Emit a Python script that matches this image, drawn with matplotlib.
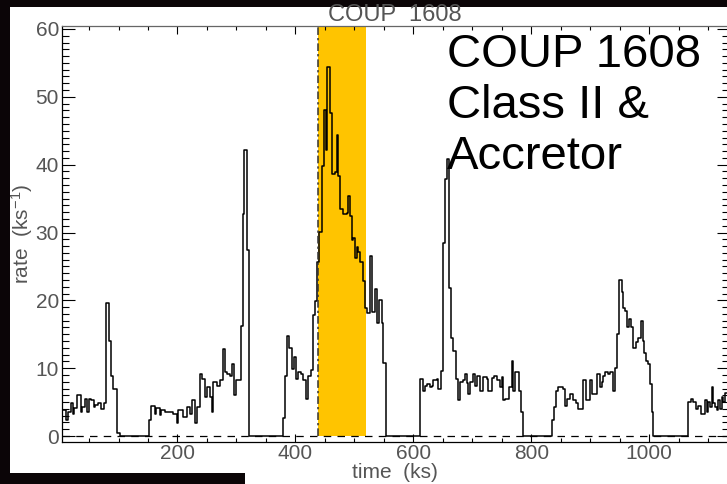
import matplotlib
matplotlib.use('Agg')
import matplotlib.pyplot as plt
import numpy as np
from matplotlib.patches import Rectangle
from matplotlib.ticker import MultipleLocator, FixedLocator

plt.rcParams['font.family'] = ['Liberation Sans', 'DejaVu Sans']
plt.rcParams['mathtext.fontset'] = 'custom'
plt.rcParams['mathtext.rm'] = 'Liberation Sans'
plt.rcParams['mathtext.it'] = 'Liberation Sans:italic'

# ---- light curve (step start times in ks, rate in counts/ks) ----
tA = [0, 11.4, 14.3, 18.8, 22.7, 24.4, 30.1, 35.8, 38.0, 42.5, 47.1, 49.3, 53.9, 58.4, 60.6,
      65.2, 69.7, 75.3, 78.2, 83.3, 86.6, 90.6, 98.0, 101.9]
rA = [3.8, 2.3, 3.6, 4.8, 3.3, 4.2, 6.0, 3.6, 4.3, 5.5, 3.6, 5.5, 5.3, 4.3, 4.6,
      4.8, 4.0, 4.8, 19.6, 14.0, 8.9, 7.0, 0.4, 0.0]

tB = [151.1, 155.6, 161.3, 164.1, 169.8, 172.6, 178.3, 187.3, 193.0, 198.6, 201.4, 209.9, 215.6,
      221.2, 224.1, 229.7, 233.7, 238.2, 241.0, 246.7, 250.6, 255.2, 258.0, 260.8, 266.5, 272.1,
      277.8, 280.6, 284.6, 289.1, 291.9, 295.9, 299.3, 303.2, 307.2, 310.6, 312.8, 318.5, 321.9]
rB = [2.3, 4.4, 3.3, 4.1, 3.1, 3.8, 3.6, 3.5, 3.3, 1.9, 3.8, 2.8, 4.3,
      3.3, 5.3, 1.9, 4.3, 9.2, 8.4, 5.7, 7.2, 5.7, 3.6, 7.9, 7.4, 8.2,
      12.8, 9.4, 9.2, 8.9, 10.6, 6.0, 8.2, 8.2, 16.2, 32.7, 42.2, 27.4, 0.0]

tC = [378.4, 382.4, 385.2, 389.7, 393.7, 397.7, 401.0, 405.0, 409.0, 413.5,
      418.0, 422.0, 425.9, 430.4, 433.3, 437.2, 440.6, 444.6, 448.5, 451.4,
      454.2, 458.7, 462.1, 467.2, 470.0, 472.9, 475.7, 481.3, 487.0, 489.8,
      492.7, 495.5, 498.3, 501.1, 504.0, 506.8, 509.6, 514.1, 518.1, 522.1,
      526.6, 530.5, 535.1, 539.0, 542.4, 546.4, 549.2, 553.7]
rC = [2.6, 8.9, 14.7, 13.0, 9.9, 11.6, 8.4, 9.4, 9.2, 8.2,
      5.5, 8.9, 9.7, 17.9, 19.9, 25.7, 30.1, 39.8, 48.1, 42.2,
      54.4, 47.6, 38.6, 38.9, 44.3, 38.3, 33.5, 32.7, 32.9, 35.4,
      32.5, 28.9, 29.2, 26.2, 27.9, 27.2, 25.7, 22.8, 18.9, 18.1,
      26.5, 18.3, 21.6, 16.7, 20.1, 16.7, 10.8, 0.0]

tD = [611.4, 616.0, 620.0, 623.0, 628.0, 631.0, 634.0, 639.7, 642.0, 646.5,
      651.0, 653.8, 656.6, 661.0, 664.0, 668.0, 672.0, 676.0, 679.0, 685.0,
      688.0, 690.6, 693.0, 696.0, 701.9, 704.0, 708.0, 713.0, 719.0, 724.5,
      727.0, 733.0, 737.0, 741.5, 747.1, 750.0, 752.8, 755.6, 763.0, 766.9,
      768.6, 772.5, 780.0, 782.5, 785.5]
rD = [8.4, 6.7, 7.4, 7.6, 7.2, 7.4, 8.2, 8.4, 7.0, 9.6,
      28.4, 37.9, 40.9, 21.8, 14.5, 12.5, 8.4, 5.3, 7.9, 8.2,
      9.2, 7.8, 6.2, 7.9, 9.2, 7.4, 8.9, 6.7, 8.7, 8.4,
      6.7, 8.5, 8.9, 8.2, 7.2, 8.7, 5.3, 5.5, 7.2, 11.1,
      6.7, 9.4, 6.7, 3.6, 0.0]

tE = [834.8, 838.8, 842.0, 845.8, 854.5, 857.3, 860.2, 865.9, 871.5, 876.0,
      880.0, 888.5, 893.0, 899.8, 902.6, 911.1, 916.7, 919.6, 922.4, 925.0,
      930.0, 933.7, 939.3, 942.2, 946.0, 949.5, 953.5, 956.3, 959.1, 963.0,
      966.4, 970.0, 973.3, 977.8, 981.8, 985.7, 989.0, 991.3, 994.8, 998.7,
      1001.6, 1004.4, 1007.2]
rE = [2.3, 4.3, 6.7, 7.2, 7.0, 4.5, 5.5, 6.2, 5.3, 4.8,
      4.0, 8.2, 5.3, 8.2, 6.2, 9.2, 7.2, 7.9, 8.9, 9.4,
      9.2, 9.4, 6.7, 10.1, 15.0, 23.0, 21.3, 18.9, 18.4, 16.0,
      17.2, 16.0, 13.0, 13.8, 14.5, 16.9, 14.0, 12.3, 11.1, 10.6,
      7.7, 3.5, 0.0]

tF = [1066.6, 1070.5, 1075.0, 1079.5, 1083.5, 1087.5, 1094.9, 1097.7, 1100.5, 1103.3,
      1106.2, 1109.0, 1111.8, 1114.7, 1117.5, 1120.3, 1123.2, 1126.0, 1128.8, 1140.0]
rF = [5.0, 5.5, 5.0, 4.0, 4.5, 3.3, 5.3, 3.5, 5.0, 4.3,
      7.2, 4.8, 4.3, 3.8, 5.3, 4.0, 5.8, 5.0, 6.3, 6.3]

band_start, band_end = 439.0, 519.0
x_ticks = [200, 400, 600, 800, 1000]
y_ticks = [0, 10, 20, 30, 40, 50, 60]
title = 'COUP  1608'
note = 'COUP 1608\nClass II &\nAccretor'

t_all = np.concatenate([tA, tB, tC, tD, tE, tF])
r_all = np.concatenate([rA, rB, rC, rD, rE, rF])

W, H = 727, 484
fig = plt.figure(figsize=(W / 100, H / 100), dpi=100, facecolor='#0b0507')
fig.patches.append(Rectangle((10 / W, 11 / H), 1.0, 466 / H, transform=fig.transFigure,
                             facecolor='white', edgecolor='none', zorder=-10))
fig.patches.append(Rectangle((245 / W, 0), 1.0, 12 / H, transform=fig.transFigure,
                             facecolor='white', edgecolor='none', zorder=-10))

ax = fig.add_axes([61.7 / W, 42 / H, (728.5 - 61.7) / W, 416 / H])
ax.set_zorder(1)
ax.set_facecolor('white')
xmin, xmax = 3.6, 1134.7
ymin, ymax = -0.88, 60.44
ax.set_xlim(xmin, xmax)
ax.set_ylim(ymin, ymax)

ax.fill_between([band_start, band_end], 0, ymax, color='#FFC400', lw=0, zorder=1)
ax.plot([band_start, band_start], [0, ymax], ls=(0, (5, 2, 1.5, 2)), color='#333333', lw=1.1, zorder=4)
ax.axhline(0, ls=(0, (6, 5)), color='black', lw=0.9, zorder=2)
ax.step(t_all, r_all, where='post', color='black', lw=1.1, zorder=3)

tick_gray = '#555555'
ax.xaxis.set_major_locator(FixedLocator(x_ticks))
ax.xaxis.set_minor_locator(MultipleLocator(50))
ax.yaxis.set_major_locator(FixedLocator(y_ticks))
ax.yaxis.set_minor_locator(MultipleLocator(1))
ax.tick_params(which='both', direction='in', top=True, right=True, width=0.8, color='black')
ax.tick_params(axis='x', which='major', length=5.8, pad=1.5)
ax.tick_params(axis='x', which='minor', length=2.9)
ax.tick_params(axis='y', which='major', length=9, pad=2)
ax.tick_params(axis='y', which='minor', length=4.8)
ax.tick_params(labelsize=15, labelcolor=tick_gray)
for s in ax.spines.values():
    s.set_linewidth(0.9)
ax.spines['top'].set_color('#666666')

ax.set_title(title, fontsize=17, color=tick_gray, pad=1.0)
ax.set_xlabel('time  (ks)', fontsize=15, color=tick_gray, va='center')
ax.xaxis.set_label_coords(0.5, (442 - 472) / 416)
ax.set_ylabel('rate  (ks$^{-1}$)', fontsize=15, color=tick_gray, va='center')
ax.yaxis.set_label_coords((22 - 61.7) / 666.8, 0.5)

fig.text(447 / W, 1 - 33 / H, note, fontsize=34, color='black', ha='left', va='top',
         linespacing=1.2, zorder=10)

fig.savefig('out.png', dpi=100, facecolor=fig.get_facecolor())
